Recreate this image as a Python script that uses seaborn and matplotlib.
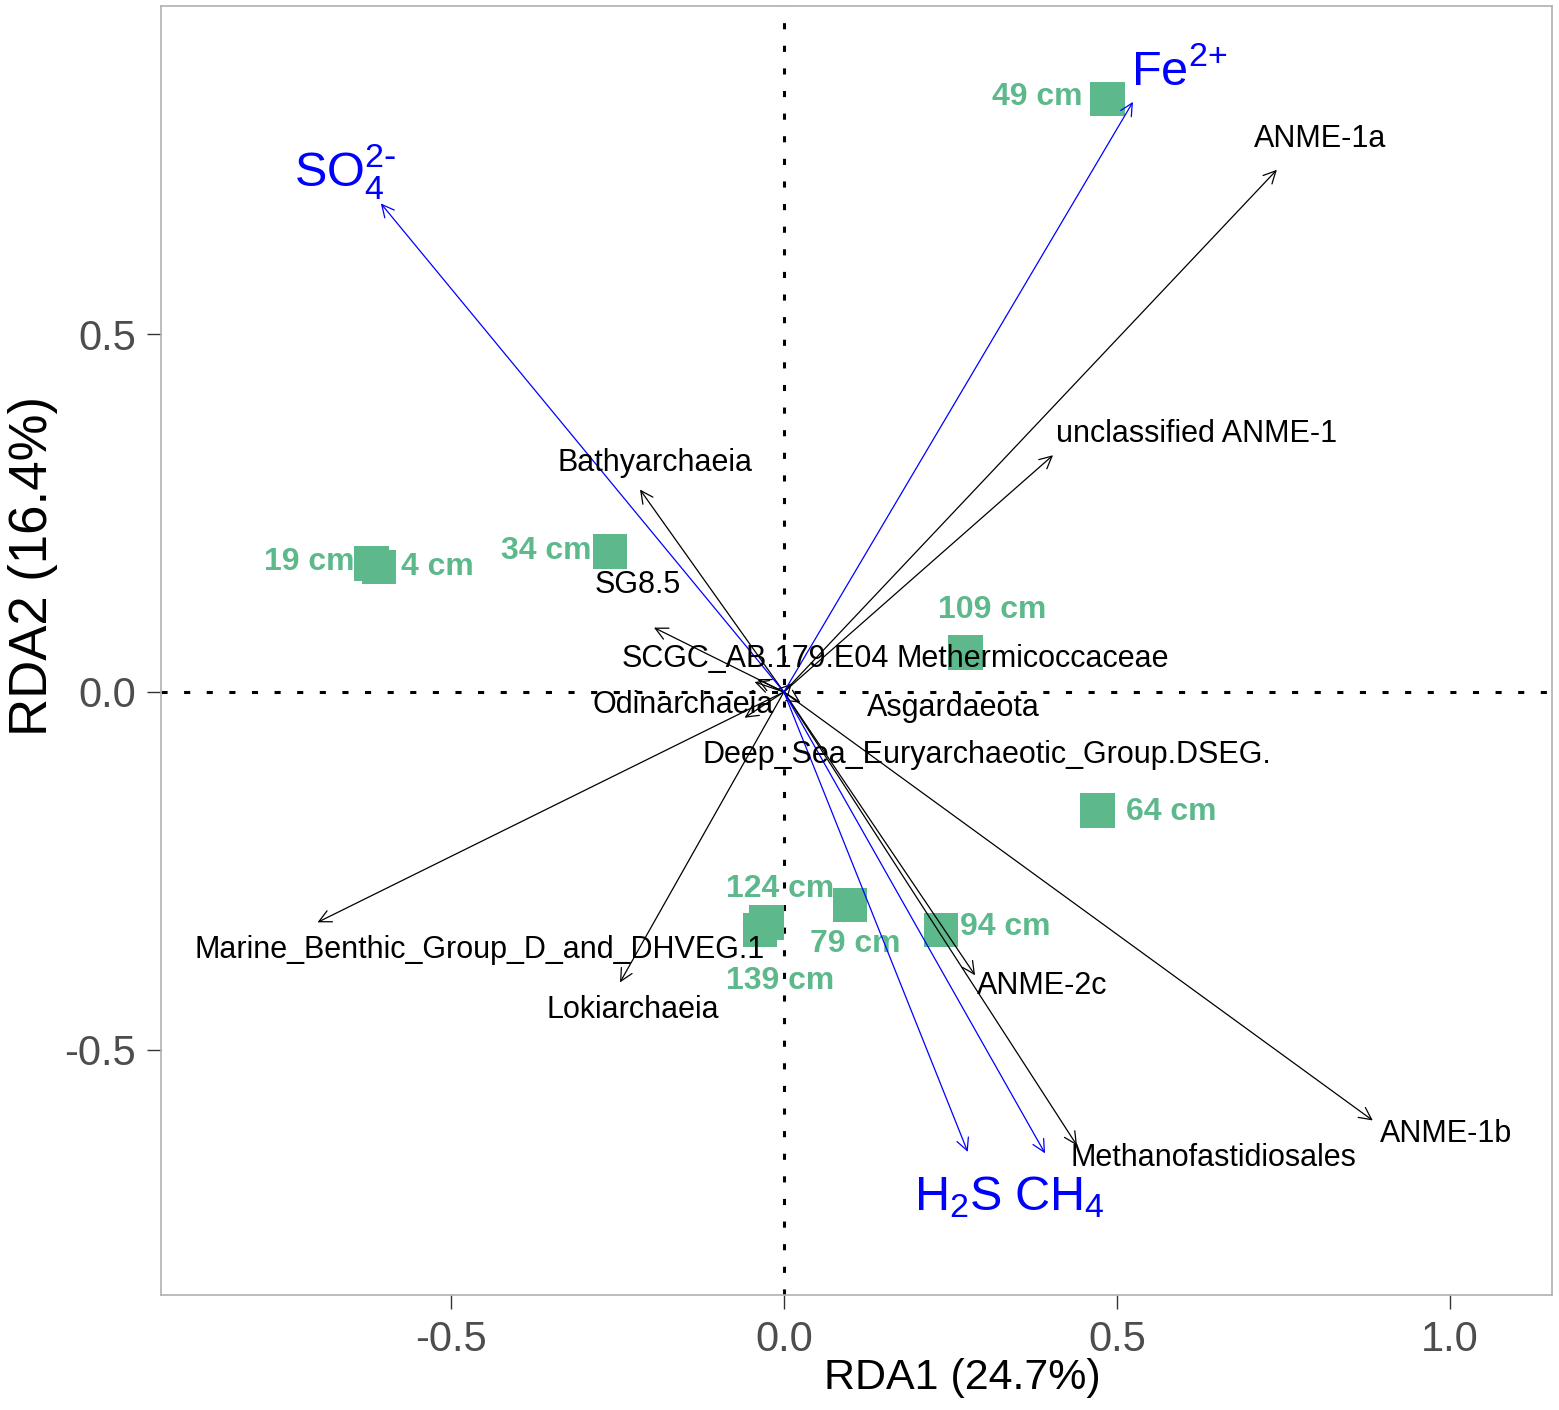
import numpy as np
import pandas as pd
import seaborn as sns
import matplotlib.pyplot as plt

# sample scores (RDA1, RDA2)
sites = ["49 cm", "19 cm", "4 cm", "34 cm", "109 cm", "64 cm", "124 cm", "139 cm", "79 cm", "94 cm"]
site_x = [0.486, -0.619, -0.608, -0.261, 0.273, 0.471, -0.026, -0.036, 0.099, 0.236]
site_y = [0.829, 0.180, 0.175, 0.196, 0.055, -0.166, -0.322, -0.333, -0.298, -0.333]
site_lab_x = [0.381, -0.712, -0.520, -0.357, 0.312, 0.581, -0.006, -0.006, 0.107, 0.332]
site_lab_y = [0.832, 0.182, 0.175, 0.197, 0.115, -0.168, -0.276, -0.404, -0.352, -0.329]

# taxa arrows
taxa = ["ANME-1a", "unclassified ANME-1", "Bathyarchaeia", "SG8.5", "SCGC_AB.179.E04",
        "Methermicoccaceae", "Odinarchaeia", "Asgardaeota", "Deep_Sea_Euryarchaeotic_Group.DSEG.",
        "Marine_Benthic_Group_D_and_DHVEG.1", "Lokiarchaeia", "ANME-2c", "Methanofastidiosales", "ANME-1b"]
taxa_x = [0.740, 0.404, -0.216, -0.040, -0.195, 0.012, -0.044, 0.025, -0.059, -0.700, -0.246, 0.287, 0.440, 0.884]
taxa_y = [0.730, 0.331, 0.283, 0.018, 0.090, 0.012, 0.014, -0.015, -0.036, -0.322, -0.406, -0.396, -0.634, -0.599]
taxa_lab_x = [0.805, 0.620, -0.194, -0.219, -0.043, 0.373, -0.152, 0.254, 0.305, -0.456, -0.227, 0.387, 0.645, 0.994]
taxa_lab_y = [0.773, 0.360, 0.320, 0.150, 0.046, 0.046, -0.018, -0.022, -0.088, -0.360, -0.445, -0.411, -0.652, -0.618]

# environmental arrows
env = [r"Fe$^{2{+}}$", r"SO$_4^{2\text{-}}$", r"H$_2$S", r"CH$_4$"]
env_x = [0.524, -0.605, 0.276, 0.392]
env_y = [0.825, 0.683, -0.643, -0.645]
env_lab_x = [0.593, -0.659, 0.261, 0.414]
env_lab_y = [0.867, 0.727, -0.706, -0.706]

sites_df = pd.DataFrame({"RDA1": site_x, "RDA2": site_y, "depth": sites})

sns.set_style("white")
plt.rcParams["font.family"] = ["Liberation Sans", "DejaVu Sans"]
plt.rcParams["mathtext.default"] = "regular"

fig = plt.figure(figsize=(15.59, 14.10), dpi=100)
ax = fig.add_axes([161 / 1559, 115 / 1410, 1391 / 1559, 1289 / 1410])

ax.axhline(0, color="black", lw=2.2, ls=(0, (2, 5.4)), zorder=1)
ax.axvline(0, color="black", lw=2.2, ls=(0, (2, 5.4)), zorder=1)

sns.scatterplot(data=sites_df, x="RDA1", y="RDA2", marker="s", s=620, color="#5DB98C",
                edgecolor="none", ax=ax, zorder=2, legend=False)
for name, lx, ly in zip(sites, site_lab_x, site_lab_y):
    ax.text(lx, ly, name, color="#5DB98C", fontsize=23, fontweight="bold",
            ha="center", va="center", zorder=3)

for name, tx, ty, lx, ly in zip(taxa, taxa_x, taxa_y, taxa_lab_x, taxa_lab_y):
    ax.annotate("", xy=(tx, ty), xytext=(0, 0),
                arrowprops=dict(arrowstyle="->", color="black", lw=0.9, mutation_scale=22,
                                shrinkA=0, shrinkB=0), zorder=4)
    ax.text(lx, ly, name, color="black", fontsize=22, ha="center", va="center", zorder=5)

for name, ex, ey, lx, ly in zip(env, env_x, env_y, env_lab_x, env_lab_y):
    ax.annotate("", xy=(ex, ey), xytext=(0, 0),
                arrowprops=dict(arrowstyle="->", color="blue", lw=0.9, mutation_scale=22,
                                shrinkA=0, shrinkB=0), zorder=4)
    ax.text(lx, ly, name, color="blue", fontsize=35, ha="center", va="center", zorder=5)

ax.set_xlim(-0.935, 1.153)
ax.set_ylim(-0.843, 0.959)
ax.set_xticks([-0.5, 0.0, 0.5, 1.0])
ax.set_yticks([-0.5, 0.0, 0.5])
ax.set_xticklabels(["-0.5", "0.0", "0.5", "1.0"])
ax.set_yticklabels(["-0.5", "0.0", "0.5"])
ax.tick_params(axis="both", which="both", bottom=True, left=True, length=10, width=1,
               color="#333333", labelsize=30, labelcolor="#4D4D4D", pad=8)
for sp in ax.spines.values():
    sp.set_color("#B0B0B0")
    sp.set_linewidth(1.2)

ax.set_xlabel("RDA1 (24.7%)", fontsize=31, color="black")
ax.set_ylabel("RDA2 (16.4%)", fontsize=38, color="black")
ax.xaxis.set_label_coords((962 - 161) / 1391, (1295 - 1358) / 1289)
ax.yaxis.set_label_coords((58 - 161) / 1391, (1295 - 566) / 1289)

fig.savefig("out.png", dpi=100)
